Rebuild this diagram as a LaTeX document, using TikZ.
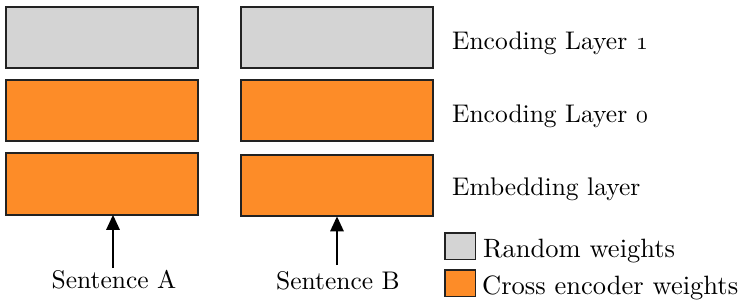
\documentclass[tikz,border=0pt]{standalone}
\usepackage{fontspec}
\setmainfont{lmroman10-regular.otf}
\usetikzlibrary{arrows.meta}
\definecolor{grayfill}{RGB}{212,212,212}
\definecolor{orangefill}{RGB}{253,140,40}
\definecolor{edge}{RGB}{34,34,34}
\newcommand{\osn}[1]{{\usefont{OML}{cmm}{m}{it}#1}}
\begin{document}
\begin{tikzpicture}[x=1pt,y=-1pt,
  layerbox/.style={draw=edge,line width=2pt,minimum width=192pt,minimum height=61.5pt,inner sep=0pt,outer sep=0pt},
  rnd/.style={layerbox,fill=grayfill},
  crs/.style={layerbox,fill=orangefill},
  keybox/.style={draw=edge,line width=1.5pt,minimum width=30.5pt,minimum height=26.5pt,inner sep=0pt},
  lbl/.style={font=\fontsize{25.5}{30}\selectfont,inner sep=0pt,anchor=base west},
  keylbl/.style={font=\fontsize{26.5}{30}\selectfont,inner sep=0pt,anchor=base west},
  sent/.style={font=\fontsize{25.5}{30}\selectfont,inner sep=0pt,anchor=base},
  arr/.style={line width=2.6pt,-{Triangle[width=13pt,length=15pt]}}]
\useasboundingbox (0,0) rectangle (747,305);
% left column
\node[rnd] (l2) at (102,37.5) {};
\node[crs] (l1) at (102,110.5) {};
\node[crs] (l0) at (102,184) {};
% right column
\node[rnd] (r2) at (337,37.5) {};
\node[crs] (r1) at (337,110.5) {};
\node[crs] (r0) at (337,185.5) {};
% layer labels
\node[lbl] (t2) at (452,50) {Encoding Layer \osn{1}};
\node[lbl] (t1) at (452,122) {Encoding Layer \osn{0}};
\node[lbl] (t0) at (452,195) {Embedding layer};
% inputs
\node[sent] (sa) at (114,288) {Sentence A};
\node[sent] (sb) at (338,289) {Sentence B};
\coordinate (ta) at (113,268);
\coordinate (tb) at (337,265);
\draw[arr] (ta) -- (ta |- l0.south);
\draw[arr] (tb) -- (tb |- r0.south);
% legend
\node[keybox,fill=grayfill] (kg) at (460,246) {};
\node[keybox,fill=orangefill] (ko) at (460,283) {};
\node[keylbl] (kgt) at (483,257) {Random weights};
\node[keylbl] (kot) at (482,294) {Cross encoder weights};
\end{tikzpicture}
\end{document}
